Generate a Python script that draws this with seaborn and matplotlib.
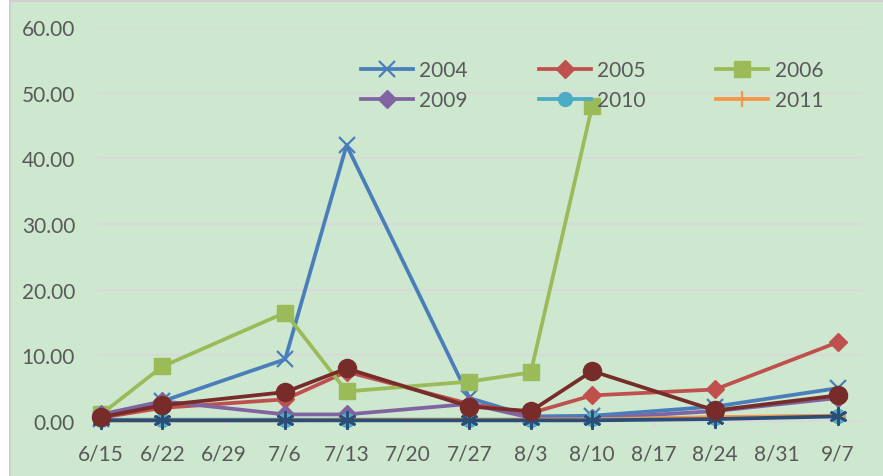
import matplotlib
matplotlib.use("Agg")
import matplotlib.pyplot as plt
from matplotlib.lines import Line2D
from matplotlib.patches import Rectangle
import seaborn as sns
import pandas as pd
import numpy as np

# Sampling dates (month/day) and the weekly tick dates on the x axis
sample_dates = ["06-15", "06-22", "07-06", "07-13", "07-27", "08-03", "08-10", "08-24", "09-07"]
tick_dates = ["06-15", "06-22", "06-29", "07-06", "07-13", "07-20", "07-27",
              "08-03", "08-10", "08-17", "08-24", "08-31", "09-07"]

# Values per season
y2004 = [0.3, 3.0, 9.4, 42.0, 3.5, 0.7, 0.8, 2.2, 5.0]
y2005 = [0.5, 2.0, 3.3, 7.5, 2.6, 1.2, 3.9, 4.8, 12.0]
y2006 = [1.0, 8.3, 16.5, 4.5, 6.0, 7.4, 48.0, np.nan, np.nan]
y2009 = [1.0, 3.0, 1.0, 1.0, 2.6, 0.5, 0.4, 1.5, 3.5]
y2010 = [0.2, 0.2, 0.2, 0.2, 0.2, 0.2, 0.3, 0.5, 0.8]
y2011 = [0.1, 0.1, 0.1, 0.2, 0.2, 0.2, 0.2, 0.6, 0.8]
y2012 = [0.1, 0.1, 0.1, 0.1, 0.1, 0.1, 0.1, 0.3, 0.7]
y2013 = [0.6, 2.4, 4.4, 8.0, 2.2, 1.5, 7.6, 1.6, 3.9]

dates = pd.to_datetime(["2011-" + d for d in sample_dates])
ticks = pd.to_datetime(["2011-" + d for d in tick_dates])
tick_labels = [f"{d.month}/{d.day}" for d in ticks]

plt.rcParams["font.family"] = ["Lato", "DejaVu Sans"]
text_color = "#595959"
grid_color = "#D9D9D9"

fig = plt.figure(figsize=(8.83, 4.77), dpi=100)
fig.patch.set_facecolor("white")
fig.add_artist(Rectangle((10 / 883, -0.01), 1.0, 1 - 2 / 477 + 0.01,
                         transform=fig.transFigure, facecolor="#CDE8CF",
                         edgecolor="#D0D0D0", linewidth=1.5, zorder=0))

ax = fig.add_axes([98 / 883, 1 - 422 / 477, (862 - 98) / 883, (422 - 28) / 477])
ax.set_facecolor("none")

series = [
    ("2004", y2004, "#4A7EBB", dict(marker="x", markersize=11, mew=1.6)),
    ("2005", y2005, "#C0504D", dict(marker="D", markersize=9.5, mew=1)),
    ("2006", y2006, "#9BBB59", dict(marker="s", markersize=11.5, mew=1)),
    ("2009", y2009, "#8064A2", dict(marker="D", markersize=9.5, mew=1)),
    ("2010", y2010, "#4BACC6", dict(marker="o", markersize=10, mew=1)),
    ("2011", y2011, "#F79646", dict(marker="+", markersize=11, mew=1.6)),
    ("2012", y2012, "#2C4D75", dict(marker=(6, 2, 0), markersize=13, mew=1.8)),
    ("2013", y2013, "#772C2A", dict(marker="o", markersize=13, mew=1)),
]

handles = {}
for i, (name, vals, color, mk) in enumerate(series):
    df = pd.DataFrame({"date": dates, "value": vals}).dropna()
    sns.lineplot(data=df, x="date", y="value", ax=ax, color=color, linewidth=2.7,
                 markeredgecolor=color, markerfacecolor=color, zorder=3 + i,
                 clip_on=False, **mk)
    handles[name] = Line2D([], [], color=color, linewidth=2.7,
                           markeredgecolor=color, markerfacecolor=color, **mk)

ax.set_ylim(0, 60)
ax.set_yticks(np.arange(0, 61, 10))
ax.set_yticklabels([f"{v:.2f}" for v in np.arange(0, 61, 10)])
ax.set_xlim(pd.Timestamp("2011-06-14 16:00"), pd.Timestamp("2011-09-09 18:00"))
ax.set_xticks(ticks)
ax.set_xticklabels(tick_labels)
ax.set_xlabel("")
ax.set_ylabel("")

ax.grid(axis="y", color=grid_color, linewidth=1.5, zorder=1)
ax.set_axisbelow(True)
for side in ["top", "right", "left"]:
    ax.spines[side].set_visible(False)
ax.spines["bottom"].set_color(grid_color)
ax.spines["bottom"].set_linewidth(1.5)
ax.tick_params(axis="y", length=0, pad=16.5, labelsize=15, labelcolor=text_color)
ax.tick_params(axis="x", length=5, width=1.5, color=grid_color, pad=11,
               labelsize=15, labelcolor=text_color)

order = ["2004", "2009", "2005", "2010", "2006", "2011"]
leg = fig.legend([handles[n] for n in order], order, ncol=3, loc="upper left",
                 bbox_to_anchor=(361 / 883, 1 - 61 / 477), frameon=False,
                 fontsize=15, handlelength=2.5, handletextpad=0.3,
                 columnspacing=3.4, labelspacing=0.5, borderpad=0,
                 borderaxespad=0)
for t in leg.get_texts():
    t.set_color(text_color)

fig.savefig("out.png", dpi=100)
